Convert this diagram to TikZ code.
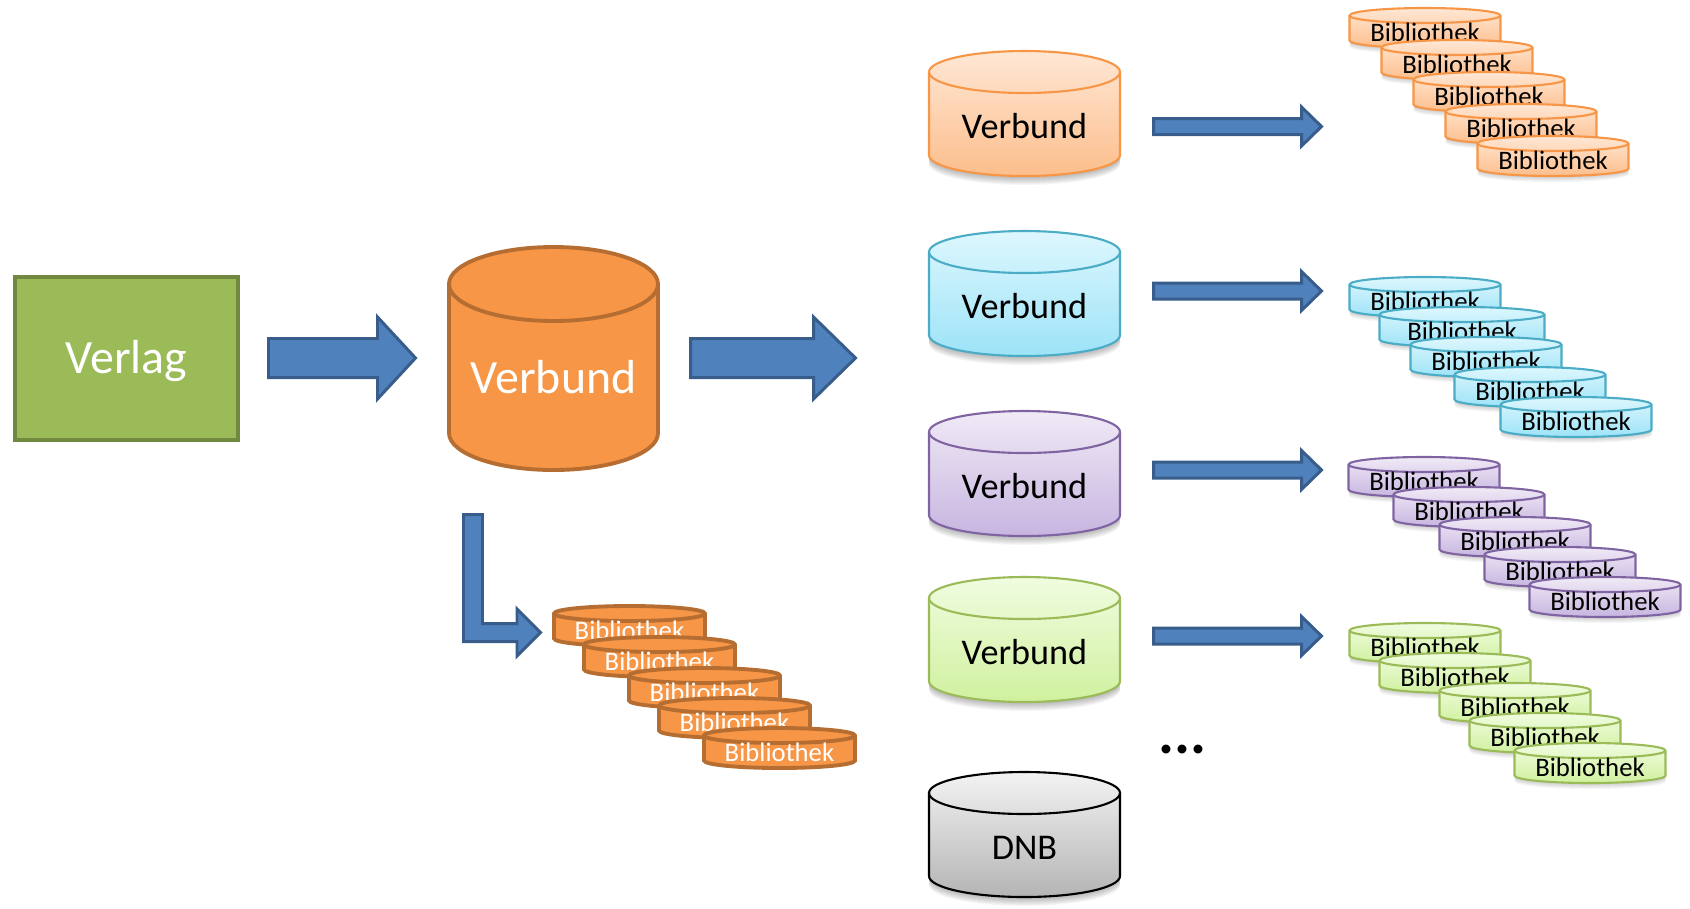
\documentclass[tikz,border=0pt]{standalone}
\usepackage{fontspec}
\setmainfont{Carlito}
\usepackage{tikz}

\definecolor{verlagGruen}{HTML}{9BBB59}
\definecolor{verlagRand}{HTML}{71893F}
\definecolor{pfeilBlau}{HTML}{4F81BD}
\definecolor{pfeilRand}{HTML}{385D8A}
\definecolor{obTop}{HTML}{F79646}
\definecolor{obBot}{HTML}{F79646}
\definecolor{obRim}{HTML}{B66D31}
\colorlet{obInk}{white}
\definecolor{orTop}{HTML}{FFE7D5}
\definecolor{orBot}{HTML}{FCBE8C}
\definecolor{orRim}{HTML}{F79646}
\colorlet{orInk}{black}
\definecolor{cyTop}{HTML}{DDF7FE}
\definecolor{cyBot}{HTML}{9DE3F7}
\definecolor{cyRim}{HTML}{4BACC6}
\colorlet{cyInk}{black}
\definecolor{liTop}{HTML}{F0EAF6}
\definecolor{liBot}{HTML}{C7B5E0}
\definecolor{liRim}{HTML}{8064A2}
\colorlet{liInk}{black}
\definecolor{grTop}{HTML}{F0FCE0}
\definecolor{grBot}{HTML}{D0F19F}
\definecolor{grRim}{HTML}{9BBB59}
\colorlet{grInk}{black}
\definecolor{dnTop}{HTML}{F3F3F3}
\definecolor{dnBot}{HTML}{B4B4B4}
\definecolor{dnRim}{HTML}{000000}
\colorlet{dnInk}{black}

\newcommand{\schriftgross}{\fontsize{13.6}{16}\selectfont}
\newcommand{\schriftmittel}{\fontsize{10.3}{12}\selectfont}
\newcommand{\schriftklein}{\fontsize{7.6}{9}\selectfont}
\newcommand{\scheibeRx}{75.5}

% Tonne: x-Radius, Hoehe, y-Radius
\newcommand{\mantel}[3]{(-#1,#3) -- (-#1,#2-#3) arc[start angle=180,end angle=0,x radius=#1,y radius=#3] -- (#1,#3) arc[start angle=0,end angle=-180,x radius=#1,y radius=#3] -- cycle}
\newcommand{\deckel}[3]{(#1,#3) arc[start angle=0,end angle=180,x radius=#1,y radius=#3]}

\tikzset{
  px/.style={x=0.01cm,y=-0.01cm},
  schatten/.style={fill=black,opacity=0.035},
  rand dick/.style={line width=1.1pt},
  rand duenn/.style={line width=0.6pt},
  scheibe rand/.style={rand duenn},
  scheibe breite/.code={\def\scheibeRx{#1}},
  pfeilstil/.style={fill=pfeilBlau,draw=pfeilRand,line width=0.85pt},
  verlagbox/.style={draw=verlagRand,fill=verlagGruen,line width=1.1pt,minimum width=2.23cm,minimum height=1.63cm,
    inner sep=0pt,text=white,font=\schriftgross,text height=8.6pt,text depth=0pt},
  pics/tonne/.style 2 args={code={
    \path[draw=#1Rim,top color=#1Top,bottom color=#1Bot,rand dick] \mantel{104.5}{223}{37};
    \draw[#1Rim,rand dick] \deckel{104.5}{223}{37};
    \node[text=#1Ink,font=\schriftgross,anchor=base] (-t) at (0,146) {#2};
  }},
  pics/verbund/.style 2 args={code={
    \foreach \s in {1,...,9}
      \fill[schatten,shift={(0,\s)}] \mantel{95.5}{125}{21};
    \path[draw=#1Rim,top color=#1Top,bottom color=#1Bot,rand duenn] \mantel{95.5}{125}{21};
    \draw[#1Rim,rand duenn] \deckel{95.5}{125}{21};
    \node[text=#1Ink,font=\schriftmittel,anchor=base] (-t) at (0,87) {#2};
  }},
  pics/scheibe/.style 2 args={code={
    \foreach \s in {1,...,6}
      \fill[schatten,shift={(0,\s)}] \mantel{\scheibeRx}{40}{7.5};
    \path[draw=#1Rim,top color=#1Top,bottom color=#1Bot,scheibe rand] \mantel{\scheibeRx}{40}{7.5};
    \draw[#1Rim,scheibe rand] \deckel{\scheibeRx}{40}{7.5};
    \node[text=#1Ink,font=\schriftklein,anchor=base] (-t) at (0,33) {#2};
  }},
  pics/pfeil/.style n args={4}{code={
    \draw[pfeilstil] (0,-#2) -- (#1-#4,-#2) -- (#1-#4,-#3) -- (#1,0) -- (#1-#4,#3) -- (#1-#4,#2) -- (0,#2) -- cycle;
  }},
}

\begin{document}
\begin{tikzpicture}[px]
  \useasboundingbox (0,0) rectangle (1690,908);

  \node[verlagbox] (verlag) at (126.5,358.5) {Verlag};
  \pic at (268.5,358) {pfeil={147}{19.5}{41}{38}};
  \pic (zentral) at (553.5,247) {tonne={ob}{Verbund}};
  \pic at (690.5,358) {pfeil={165}{19.5}{41}{42}};

  \draw[pfeilstil] (463.5,514.5) -- (482.5,514.5) -- (482.5,623.5) -- (517,623.5) -- (517,609)
    -- (540.5,632.5) -- (517,656) -- (517,641.5) -- (463.5,641.5) -- cycle;
  \begin{scope}[scheibe rand/.style={rand dick},schatten/.style={fill=none}]
    \foreach \x/\y [count=\i] in {552/604,582/635,627/666,657/696,702/726}
      \pic (ob\i) at (\x+77.5,\y+2) {scheibe={ob}{Bibliothek}};
  \end{scope}

  \pic (v1) at (1024.5,51) {verbund={or}{Verbund}};
  \pic (v2) at (1024.5,231) {verbund={cy}{Verbund}};
  \pic (v3) at (1024.5,411) {verbund={li}{Verbund}};
  \pic (v4) at (1024.5,577) {verbund={gr}{Verbund}};
  \pic (dnb) at (1024.5,772) {verbund={dn}{DNB}};

  \foreach \y in {126.5,291,470,636}
    \pic at (1153.5,\y) {pfeil={168}{8}{19.5}{20}};

  \node[font=\bfseries\fontsize{17}{20}\selectfont,anchor=base] (punkte) at (1182.5,753) {...};

  \foreach \x/\y [count=\i] in {1349/7,1381/39,1413/71,1445/103,1477/135}
    \pic (or\i) at (\x+76,\y+1) {scheibe={or}{Bibliothek}};
  \foreach \x/\y/\r [count=\i] in {1349/276/75.5,1379/306/82.5,1410/336/75.5,1454/366/75.5,1500/396/75.5}
    \pic[scheibe breite=\r] (cy\i) at (\x+\r+0.5,\y+1) {scheibe={cy}{Bibliothek}};
  \foreach \x/\y [count=\i] in {1348/456,1393/486,1439/516,1484/546,1529/576}
    \pic (li\i) at (\x+76,\y+1) {scheibe={li}{Bibliothek}};
  \foreach \x/\y [count=\i] in {1349/622,1379/652,1439/682,1469/712,1514/742}
    \pic (gr\i) at (\x+76,\y+1) {scheibe={gr}{Bibliothek}};
\end{tikzpicture}
\end{document}
